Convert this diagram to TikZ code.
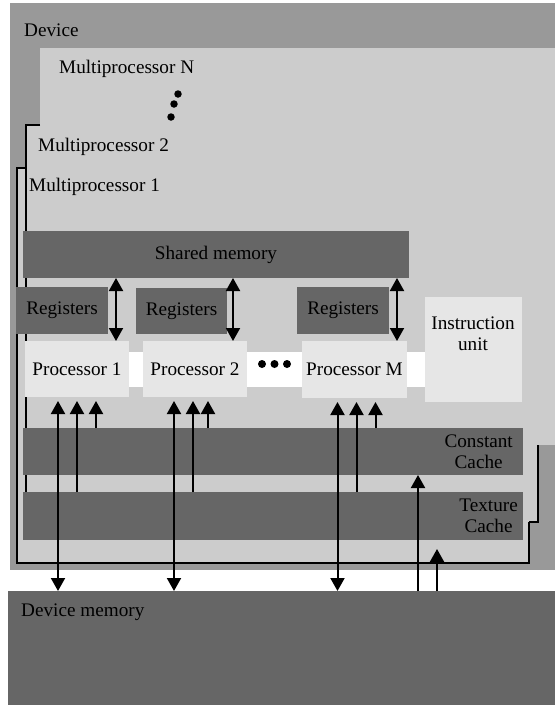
\documentclass[tikz,border=0pt]{standalone}
\usepackage{fontspec}
\setmainfont{Liberation Serif}
\usetikzlibrary{positioning,arrows.meta}
\definecolor{devgray}{HTML}{999999}
\definecolor{mpgray}{HTML}{CCCCCC}
\definecolor{memgray}{HTML}{666666}
\definecolor{procgray}{HTML}{E6E6E6}
\tikzset{>={Triangle[width=14pt,length=13pt]}}
\tikzset{
  box/.style={rectangle,inner sep=0pt,outer sep=0pt},
  devbox/.style={box,fill=devgray},
  mpbox/.style={box,fill=mpgray},
  membox/.style={box,fill=memgray},
  procbox/.style={box,fill=procgray},
  lbl/.style={inner sep=0pt,anchor=west},
  dot/.style={circle,fill=black,inner sep=0pt,minimum size=7.5pt},
  outl/.style={line width=2pt},
  link/.style={line width=2pt},
}

\begin{document}
\begin{tikzpicture}[x=1pt,y=-1pt,font=\fontsize{19.2}{21}\selectfont,
                    every text node part/.style={align=center}]
      \useasboundingbox (0,0) rectangle (555,705);

      % device and multiprocessors
      \node[devbox,minimum width=545pt,minimum height=567pt] (Dev) at (282.5,286.5) {};
      \node[mpbox,minimum width=512pt,minimum height=397pt] (MP2) at (282,323.5) {};
      \node[mpbox,minimum width=515pt,minimum height=397pt] (MPN) at (297.5,246.5) {};
      \node[mpbox,minimum width=512pt,minimum height=395pt] (MP1) at (273,365.5) {};

      \draw[outl] (MPN.west |- MP2.north) -- (MP2.north west) -- (MP2.south west);
      \draw[outl] (MP1.east |- MP2.south) -- (MP2.south east) -- (MP2.east |- MPN.south);
      \draw[outl] (MP2.west |- MP1.north) -- (MP1.north west) -- (MP1.south west)
                  -- (MP1.south east) -- (MP1.east |- MP2.south);

      \node[lbl] (DevL)  at (24,30)  {Device};
      \node[lbl] (MPNL)  at (59,69)  {Multiprocessor N};
      \node[lbl] (MP2L)  at (38,147) {Multiprocessor 2};
      \node[lbl] (MP1L)  at (29,187) {Multiprocessor 1};

      \node[dot] (vdotA) at (178,94)  {};
      \node[dot] (vdotB) at (174,104) {};
      \node[dot] (vdotC) at (171,117) {};

      % memories and processors
      \node[membox,minimum width=386pt,minimum height=47pt] (SM) at (216,254.5) {Shared memory};

      \node[membox,minimum width=92pt,minimum height=47pt] (R1) at (62,310.5)  {Registers};
      \node[membox,minimum width=91pt,minimum height=46pt] (R2) at (181.5,311) {Registers};
      \node[membox,minimum width=92pt,minimum height=47pt] (RM) at (343,310.5) {Registers};

      \node[box,fill=white,minimum width=400pt,minimum height=35pt] (bus) at (225,369.5) {};
      \node[procbox,minimum width=104pt,minimum height=56pt] (P1) at (77,369)    {Processor 1};
      \node[procbox,minimum width=104pt,minimum height=56pt] (P2) at (195,369)   {Processor 2};
      \node[procbox,minimum width=105pt,minimum height=57pt] (PM) at (354.5,369.5) {Processor M};
      \node[procbox,minimum width=97pt,minimum height=105pt] (IU) at (473.5,349.5) {};
      \node (IUL) at (473,334) {Instruction\\unit};

      \node[dot,minimum size=8pt] (hdotA) at (262,364)   {};
      \node[dot,minimum size=8pt] (hdotB) at (274.5,364) {};
      \node[dot,minimum size=8pt] (hdotC) at (287,364)   {};

      \node[membox,minimum width=500pt,minimum height=47pt] (CC) at (273,451.5) {};
      \node[membox,minimum width=500pt,minimum height=48pt] (TC) at (273,516)   {};
      \node[lbl,anchor=east,align=right] (CCL) at ([xshift=-10pt]CC.east) {Constant\\Cache};
      \node[lbl,anchor=east,align=right] (TCL) at ([xshift=-5pt]TC.east)  {Texture\\Cache};

      \node[membox,minimum width=547pt,minimum height=114pt] (DM) at (281.5,648) {};
      \node[lbl] (DML) at (21,612) {Device memory};

      % registers <-> shared memory
      \draw[link,<->] ([xshift=8pt]R1.east |- SM.south) -- ([xshift=8pt]R1.east |- P1.north);
      \draw[link,<->] ([xshift=6pt]R2.east |- SM.south) -- ([xshift=6pt]R2.east |- P2.north);
      \draw[link,<->] ([xshift=8pt]RM.east |- SM.south) -- ([xshift=8pt]RM.east |- PM.north);

      % processors <-> caches and device memory
      \draw[link,<->,shorten <=4pt] ([xshift=-19pt]P1.south) -- ([xshift=-19pt]P1.south |- DM.north);
      \draw[link,->,shorten >=4pt]  (P1.south |- TC.north) -- (P1.south);
      \draw[link,->,shorten >=4pt]  ([xshift=19pt]P1.south |- CC.north) -- ([xshift=19pt]P1.south);

      \draw[link,<->,shorten <=4pt] ([xshift=-21pt]P2.south) -- ([xshift=-21pt]P2.south |- DM.north);
      \draw[link,->,shorten >=4pt]  ([xshift=-2pt]P2.south |- TC.north) -- ([xshift=-2pt]P2.south);
      \draw[link,->,shorten >=4pt]  ([xshift=13pt]P2.south |- CC.north) -- ([xshift=13pt]P2.south);

      \draw[link,<->,shorten <=4pt] ([xshift=-17pt]PM.south) -- ([xshift=-17pt]PM.south |- DM.north);
      \draw[link,->,shorten >=4pt]  ([xshift=2pt]PM.south |- TC.north) -- ([xshift=2pt]PM.south);
      \draw[link,->,shorten >=4pt]  ([xshift=21pt]PM.south |- CC.north) -- ([xshift=21pt]PM.south);

      % device memory -> caches
      \draw[link,->]                ([xshift=-7pt]IU.west |- DM.north) -- ([xshift=-7pt]IU.west |- CC.south);
      \draw[link,->,shorten >=9pt]  ([xshift=12pt]IU.west |- DM.north) -- ([xshift=12pt]IU.west |- TC.south);
    \end{tikzpicture}
\end{document}
